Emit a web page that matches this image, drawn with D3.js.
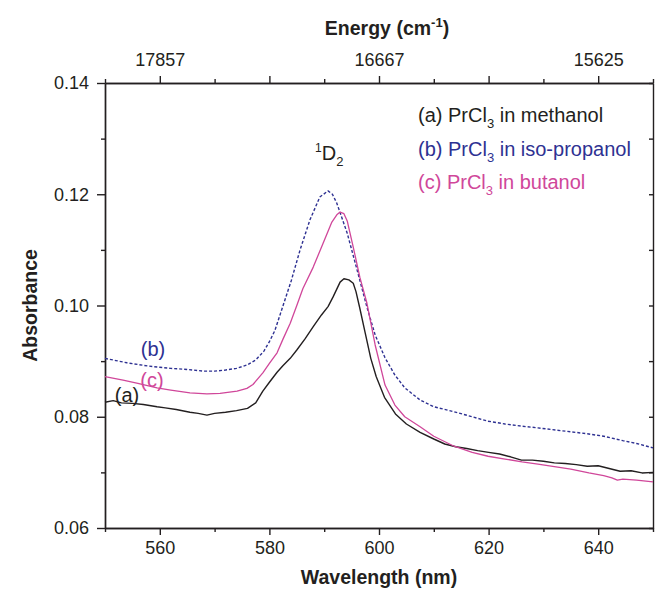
<!DOCTYPE html>
<html>
<head>
<meta charset="utf-8">
<script src="https://cdn.jsdelivr.net/npm/d3@7.9.0/dist/d3.min.js"></script>
<style>
  body { margin: 0; background: #fff; }
  svg { font-family: "Liberation Sans", Arial, sans-serif; }
  .axis path, .axis line { stroke: #231f20; stroke-width: 1.4; }
  .axis text { font-size: 18px; fill: #231f20; }
</style>
</head>
<body>
<svg id="chart" width="658" height="590"></svg>
<script>
// wavelength ticks (nm) and energy labels on top axis
const majorWl = [560, 580, 600, 620, 640];
const minorWl = [550, 570, 590, 610, 630, 650];
const energyWl = [560, 600, 640];
const energyLabels = ['17857', '16667', '15625'];
const majorAbs = [0.06, 0.08, 0.10, 0.12, 0.14];
const minorAbs = [0.07, 0.09, 0.11, 0.13];

// (a) PrCl3 in methanol  [nm, absorbance]
const methanol = [
  [550,0.0826],[551.5,0.0829],[553,0.0825],[555,0.0824],[557,0.0822],[559.5,0.0818],
  [561,0.0816],[563,0.0813],[565.5,0.0808],[567,0.0806],[568.6,0.0803],[570,0.0806],
  [572,0.0808],[574,0.0811],[576,0.0815],[577.5,0.0825],[578.8,0.0846],[580,0.0862],
  [581.4,0.0880],[582.5,0.0892],[583.8,0.0905],[585,0.0920],[586.5,0.0940],[588,0.0962],
  [589.5,0.0983],[590.7,0.0998],[591.6,0.1015],[592.9,0.1042],[593.6,0.1048],[594.5,0.1046],
  [595.3,0.1040],[595.8,0.1025],[596.5,0.0995],[597.5,0.0950],[598.5,0.0905],[599.5,0.0872],
  [601,0.0835],[603,0.0805],[605,0.0787],[607.5,0.0772],[610,0.0760],[612,0.0751],
  [614,0.0746],[616,0.0743],[618,0.0739],[620,0.0736],[622,0.0733],[624,0.0728],
  [626,0.0722],[628,0.0722],[630,0.0720],[632,0.0717],[634,0.0716],[636,0.0714],
  [638,0.0711],[640,0.0712],[642,0.0707],[644,0.0702],[646,0.0703],[648,0.0699],[650,0.0700]
];

// (b) PrCl3 in iso-propanol
const isopropanol = [
  [550,0.0905],[552,0.0901],[554,0.0897],[556,0.0894],[558,0.0891],[560,0.0889],
  [562,0.0887],[565,0.0885],[568,0.0882],[570,0.0882],[572,0.0884],[574,0.0887],
  [575.9,0.0893],[577.5,0.0902],[579,0.0918],[580,0.0935],[581,0.0955],[582,0.0985],
  [583,0.1015],[584,0.1045],[585.6,0.1100],[587.4,0.1154],[589.2,0.1195],[590.7,0.1206],
  [591.5,0.1200],[592.3,0.1184],[594.2,0.1130],[596,0.1064],[597.8,0.0997],[599.3,0.0947],
  [601.1,0.0906],[602.9,0.0875],[604.7,0.0852],[607.5,0.0830],[610,0.0818],[613.7,0.0809],
  [617,0.0800],[619.9,0.0792],[623,0.0787],[626.1,0.0783],[629,0.0780],[632.3,0.0776],
  [635,0.0773],[638.3,0.0769],[641,0.0765],[644.5,0.0757],[647,0.0752],[650,0.0744]
];

// (c) PrCl3 in butanol
const butanol = [
  [550,0.0872],[553.3,0.0866],[556,0.0860],[559.5,0.0852],[562,0.0848],[565.5,0.0843],
  [568.6,0.0841],[571,0.0842],[574.1,0.0846],[575.9,0.0851],[577,0.0858],[578.8,0.0879],
  [580,0.0896],[581.4,0.0915],[582.5,0.0940],[583.8,0.0968],[585,0.1000],[586.1,0.1030],
  [588,0.1069],[589.8,0.1112],[591.4,0.1150],[592.3,0.1163],[592.9,0.1168],[593.6,0.1165],
  [594.2,0.1152],[595.3,0.1105],[596.5,0.1051],[597.8,0.1004],[599.3,0.0929],[601.1,0.0857],
  [602.9,0.0821],[604.7,0.0800],[607.5,0.0782],[610,0.0765],[613.7,0.0747],[617,0.0736],
  [619.9,0.0729],[623,0.0724],[626.1,0.0719],[629,0.0715],[632.3,0.0710],[635,0.0706],
  [638.3,0.0699],[641,0.0694],[642.5,0.0690],[643.5,0.0686],[644.5,0.0688],[647,0.0686],[650,0.0683]
];

const series = [
  { name: 'a', data: methanol, color: '#231f20', dash: null, width: 1.4 },
  { name: 'b', data: isopropanol, color: '#2e3192', dash: '3,2', width: 1.4 },
  { name: 'c', data: butanol, color: '#d0479a', dash: null, width: 1.3 }
];

const margin = { top: 83, right: 5, bottom: 62, left: 105 };
const width = 658, height = 590;
const plotW = width - margin.left - margin.right;
const plotH = height - margin.top - margin.bottom;

const svg = d3.select('#chart');
const g = svg.append('g').attr('transform', `translate(${margin.left},${margin.top})`);

const x = d3.scaleLinear().domain([550, 650]).range([0, plotW]);
const y = d3.scaleLinear().domain([0.06, 0.14]).range([plotH, 0]);

// bottom axis
g.append('g').attr('class', 'axis').attr('transform', `translate(0,${plotH})`)
  .call(d3.axisBottom(x).tickValues(majorWl).tickSize(7).tickSizeOuter(0).tickPadding(6).tickFormat(d3.format('d')));
g.append('g').attr('class', 'axis').attr('transform', `translate(0,${plotH})`)
  .call(d3.axisBottom(x).tickValues(minorWl).tickSize(4).tickSizeOuter(0).tickFormat(''));

// top axis (energy)
g.append('g').attr('class', 'axis')
  .call(d3.axisTop(x).tickValues(majorWl).tickSize(7).tickSizeOuter(0).tickFormat(''));
g.append('g').attr('class', 'axis')
  .call(d3.axisTop(x).tickValues(minorWl).tickSize(4).tickSizeOuter(0).tickFormat(''));
g.append('g').attr('class', 'axis')
  .call(d3.axisTop(x).tickValues(energyWl).tickSize(0).tickPadding(17)
    .tickFormat((d, i) => energyLabels[i]))
  .select('.domain').remove();

// left axis
g.append('g').attr('class', 'axis')
  .call(d3.axisLeft(y).tickValues(majorAbs).tickSize(8).tickSizeOuter(0).tickPadding(8).tickFormat(d3.format('.2f')));
g.append('g').attr('class', 'axis')
  .call(d3.axisLeft(y).tickValues(minorAbs).tickSize(4).tickSizeOuter(0).tickFormat(''));

// right axis, ticks inward
g.append('g').attr('class', 'axis').attr('transform', `translate(${plotW},0)`)
  .call(d3.axisRight(y).tickValues(majorAbs.concat(minorAbs)).tickSize(-4).tickSizeOuter(0).tickFormat(''));

// curves
const line = d3.line().x(d => x(d[0])).y(d => y(d[1]));
g.selectAll('path.curve')
  .data(series)
  .join('path')
  .attr('class', 'curve')
  .attr('fill', 'none')
  .attr('stroke', d => d.color)
  .attr('stroke-width', d => d.width)
  .attr('stroke-dasharray', d => d.dash)
  .attr('stroke-linejoin', 'round')
  .attr('d', d => line(d.data));

// axis titles
svg.append('text')
  .attr('x', margin.left + plotW / 2).attr('y', 584)
  .attr('text-anchor', 'middle').attr('font-size', 19.5).attr('font-weight', 'bold').attr('fill', '#231f20')
  .text('Wavelength (nm)');

svg.append('text')
  .attr('transform', `translate(37,${margin.top + plotH / 2}) rotate(-90)`)
  .attr('text-anchor', 'middle').attr('font-size', 19.5).attr('font-weight', 'bold').attr('fill', '#231f20')
  .text('Absorbance');

const et = svg.append('text')
  .attr('x', 387).attr('y', 35)
  .attr('text-anchor', 'middle').attr('font-size', 19.5).attr('font-weight', 'bold').attr('fill', '#231f20');
et.append('tspan').text('Energy (cm');
et.append('tspan').attr('dy', -8).attr('font-size', 13).text('-1');
et.append('tspan').attr('dy', 8).text(')');

// legend
const legend = [
  { tag: '(a)', solvent: 'methanol', color: '#231f20' },
  { tag: '(b)', solvent: 'iso-propanol', color: '#2e3192' },
  { tag: '(c)', solvent: 'butanol', color: '#d0479a' }
];
legend.forEach((d, i) => {
  const t = svg.append('text')
    .attr('x', 418).attr('y', 122 + i * 33.5)
    .attr('font-size', 20).attr('fill', d.color);
  t.append('tspan').text(`${d.tag} PrCl`);
  t.append('tspan').attr('dy', 6).attr('font-size', 13).text('3');
  t.append('tspan').attr('dy', -6).text(` in ${d.solvent}`);
});

// 1D2 label
const dl = svg.append('text').attr('x', 315).attr('y', 160).attr('font-size', 20).attr('fill', '#231f20');
dl.append('tspan').attr('dy', -8).attr('font-size', 12).text('1');
dl.append('tspan').attr('dy', 8).text('D');
dl.append('tspan').attr('dy', 6).attr('font-size', 13).text('2');

// curve tags
const tags = [
  { text: '(b)', x: 153, y: 356, color: '#2e3192' },
  { text: '(c)', x: 152, y: 387, color: '#d0479a' },
  { text: '(a)', x: 127, y: 402, color: '#231f20' }
];
svg.selectAll('text.tag')
  .data(tags)
  .join('text')
  .attr('class', 'tag')
  .attr('x', d => d.x).attr('y', d => d.y)
  .attr('text-anchor', 'middle').attr('font-size', 20)
  .attr('fill', d => d.color)
  .text(d => d.text);
</script>
</body>
</html>
